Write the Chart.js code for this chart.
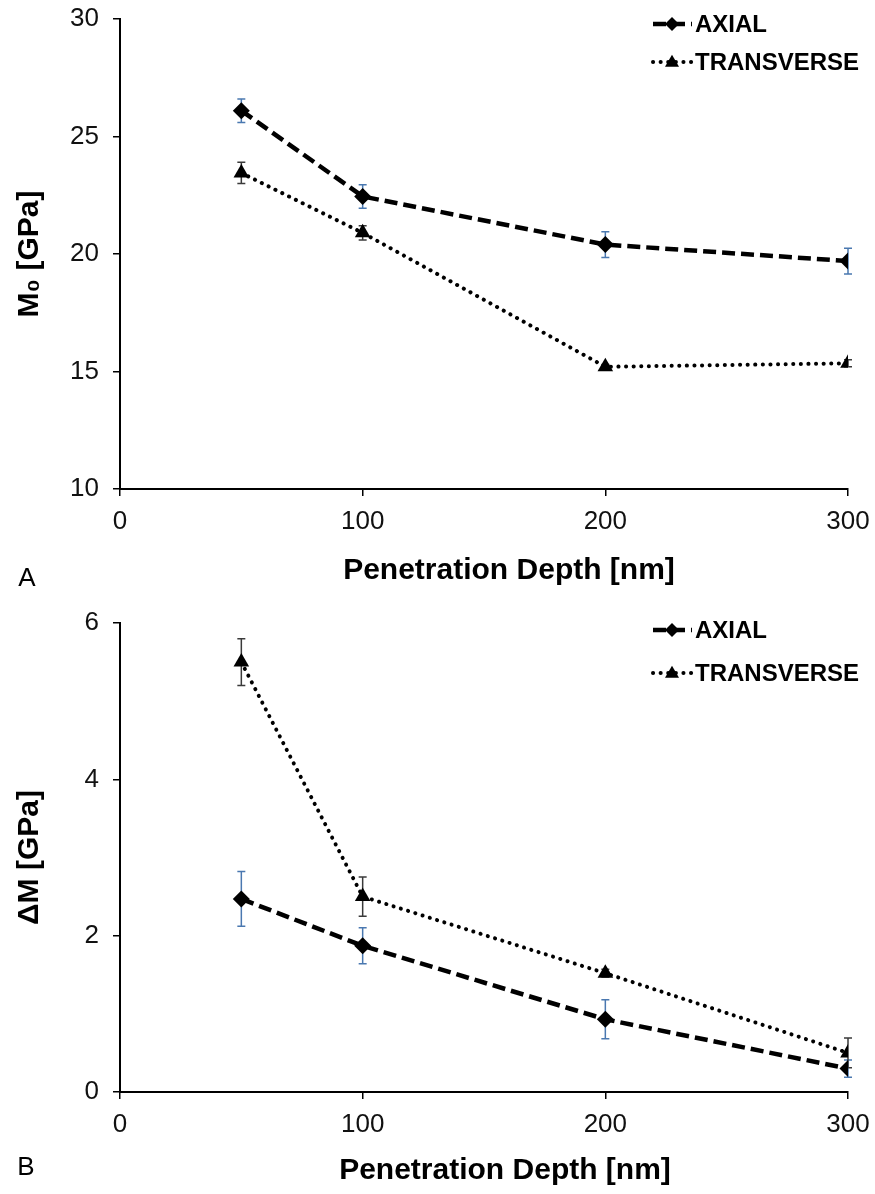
<!DOCTYPE html>
<html>
<head>
<meta charset="utf-8">
<script src="https://cdn.jsdelivr.net/npm/chart.js@4.4.1/dist/chart.umd.min.js"></script>
<style>
  html, body { margin: 0; padding: 0; background: #fff; }
  #wrap { position: relative; width: 875px; height: 1194px; font-family: "Liberation Sans", Arial, sans-serif; color: #000; }
  canvas { position: absolute; left: 0; }
  .xt { position: absolute; transform: translate(-50%, -50%); font-weight: bold; font-size: 30px; white-space: nowrap; line-height: 1; }
  .lab { position: absolute; transform: translate(-50%, -50%); font-size: 26px; line-height: 1; }
</style>
</head>
<body>
<div id="wrap">
  <canvas id="cA" width="875" height="597" style="top:0px"></canvas>
  <canvas id="cB" width="875" height="597" style="top:597px"></canvas>
  <div class="xt" style="left:509px; top:569px">Penetration Depth [nm]</div>
  <div class="xt" style="left:505px; top:1169px">Penetration Depth [nm]</div>
  <div class="lab" style="left:27px; top:577px">A</div>
  <div class="lab" style="left:26px; top:1166px">B</div>
</div>
<script>
// ---- data ----
const depths = [50, 100, 200, 300];
const seriesNames = ['AXIAL', 'TRANSVERSE'];
const yTitleA = 'M\u2080 [GPa]';
const yTitleB = '\u0394M [GPa]';

const m0Axial = [26.1, 22.45, 20.4, 19.7];
const m0AxialErr = [0.5, 0.5, 0.55, 0.55];
const m0Trans = [23.45, 20.9, 15.2, 15.35];
const m0TransErr = [0.45, 0.3, 0.1, 0.15];

const dmAxial = [2.47, 1.87, 0.93, 0.30];
const dmAxialErr = [0.35, 0.23, 0.25, 0.11];
const dmTrans = [5.5, 2.5, 1.52, 0.5];
const dmTransErr = [0.3, 0.25, 0.05, 0.19];

const xTickValues = [0, 100, 200, 300];
const yTicksA = [10, 15, 20, 25, 30];
const yTicksB = [0, 2, 4, 6];

// ---- styles ----
const FONT = '"Liberation Sans", Arial, sans-serif';
const axialErrColor = '#4a78b0';
const transErrColor = '#3a3a3a';

function drawMarker(ctx, style, x, y, r) {
  ctx.beginPath();
  if (style === 'rectRot') {
    ctx.moveTo(x, y - r); ctx.lineTo(x + r, y); ctx.lineTo(x, y + r); ctx.lineTo(x - r, y);
  } else {
    const h = r * 1.7;
    ctx.moveTo(x, y - h * 0.6); ctx.lineTo(x + r, y + h * 0.4); ctx.lineTo(x - r, y + h * 0.4);
  }
  ctx.closePath();
  ctx.fillStyle = '#000';
  ctx.fill();
}

const errorBarPlugin = {
  id: 'errorBars',
  beforeDatasetsDraw(chart) {
    const ctx = chart.ctx;
    const xs = chart.scales.x, ys = chart.scales.y;
    chart.data.datasets.forEach((ds) => {
      ctx.save();
      ctx.strokeStyle = ds.errColor;
      ctx.lineWidth = 1.5;
      ds.data.forEach((pt, i) => {
        const e = ds.errors[i];
        const x = xs.getPixelForValue(pt.x);
        const y1 = ys.getPixelForValue(pt.y + e);
        const y2 = ys.getPixelForValue(pt.y - e);
        ctx.beginPath();
        ctx.moveTo(x, y1); ctx.lineTo(x, y2);
        ctx.moveTo(x - 4, y1); ctx.lineTo(x + 4, y1);
        ctx.moveTo(x - 4, y2); ctx.lineTo(x + 4, y2);
        ctx.stroke();
      });
      ctx.restore();
    });
  }
};

const legendPlugin = {
  id: 'customLegend',
  afterDraw(chart) {
    const ctx = chart.ctx;
    const top = chart.chartArea.top;
    const offs = chart.options.plugins.customLegend.offsets;
    chart.data.datasets.forEach((ds, i) => {
      const y = top + offs[i];
      ctx.save();
      ctx.strokeStyle = '#000';
      ctx.lineWidth = ds.borderWidth;
      ctx.lineCap = ds.borderCapStyle;
      ctx.setLineDash(ds.borderDash);
      ctx.beginPath();
      ctx.moveTo(653, y); ctx.lineTo(692, y);
      ctx.stroke();
      ctx.setLineDash([]);
      drawMarker(ctx, ds.pointStyle, 672, y, 7);
      ctx.fillStyle = '#000';
      ctx.font = 'bold 24px ' + FONT;
      ctx.textBaseline = 'middle';
      ctx.textAlign = 'left';
      ctx.fillText(ds.label, 695, y + 1);
      ctx.restore();
    });
  }
};

function makeChart(id, axial, axialErr, trans, transErr, yMin, yMax, yTitle, padTop, chartBottom, yTickList, legendOffs) {
  const H = 597;
  return new Chart(document.getElementById(id), {
    type: 'line',
    data: {
      datasets: [
        {
          label: seriesNames[0],
          data: axial.map((v, i) => ({ x: depths[i], y: v })),
          errors: axialErr,
          errColor: axialErrColor,
          borderColor: '#000',
          backgroundColor: '#000',
          borderWidth: 4.5,
          borderDash: [13, 6],
          borderCapStyle: 'butt',
          pointStyle: 'rectRot',
          pointRadius: 8.5,
          pointBackgroundColor: '#000',
          pointBorderColor: '#000',
          pointBorderWidth: 0,
          tension: 0
        },
        {
          label: seriesNames[1],
          data: trans.map((v, i) => ({ x: depths[i], y: v })),
          errors: transErr,
          errColor: transErrColor,
          borderColor: '#000',
          backgroundColor: '#000',
          borderWidth: 4,
          borderDash: [0.1, 7.5],
          borderCapStyle: 'round',
          pointStyle: 'triangle',
          pointRadius: 9,
          pointBackgroundColor: '#000',
          pointBorderColor: '#000',
          pointBorderWidth: 0,
          tension: 0
        }
      ]
    },
    options: {
      responsive: false,
      devicePixelRatio: 1,
      animation: false,
      events: [],
      layout: { padding: { top: padTop, right: 27, bottom: 0, left: 0 } },
      plugins: {
        legend: { display: false },
        tooltip: { enabled: false },
        customLegend: { offsets: legendOffs }
      },
      scales: {
        x: {
          type: 'linear',
          min: 0, max: 300,
          afterBuildTicks: (s) => { s.ticks = xTickValues.map(v => ({ value: v })); },
          afterFit: (s) => { s.height = H - chartBottom; s.paddingLeft = 0; s.paddingRight = 0; },
          border: { display: true, color: '#000', width: 2 },
          grid: { display: true, drawOnChartArea: false, drawTicks: true, tickLength: 7, color: '#000', lineWidth: 1.5 },
          ticks: { color: '#111', font: { family: FONT, size: 26 }, padding: 10, maxRotation: 0 }
        },
        y: {
          type: 'linear',
          min: yMin, max: yMax,
          afterBuildTicks: (s) => { s.ticks = yTickList.map(v => ({ value: v })); },
          afterFit: (s) => { s.width = 120; s.paddingTop = 0; s.paddingBottom = 0; },
          border: { display: true, color: '#000', width: 2 },
          grid: { display: true, drawOnChartArea: false, drawTicks: true, tickLength: 7, color: '#000', lineWidth: 1.5 },
          ticks: { color: '#111', font: { family: FONT, size: 26 }, padding: 14 },
          title: { display: true, text: yTitle, color: '#000', font: { family: FONT, size: 30, weight: 'bold' }, padding: { top: 12, bottom: 0 } }
        }
      }
    },
    plugins: [errorBarPlugin, legendPlugin]
  });
}

makeChart('cA', m0Axial, m0AxialErr, m0Trans, m0TransErr, 10, 30, yTitleA, 19, 489, yTicksA, [5, 43]);
makeChart('cB', dmAxial, dmAxialErr, dmTrans, dmTransErr, 0, 6, yTitleB, 26, 495, yTicksB, [7, 50]);
</script>
</body>
</html>
